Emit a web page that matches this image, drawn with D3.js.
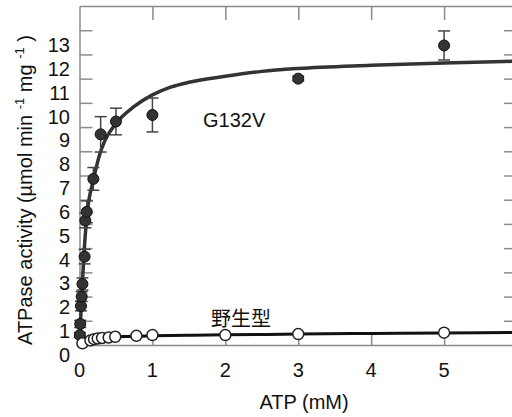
<!DOCTYPE html>
<html>
<head>
<meta charset="utf-8">
<script src="https://cdn.jsdelivr.net/npm/d3@7"></script>
<style>
  body { margin: 0; background: #fff; }
  svg { display: block; font-family: "Liberation Sans", Arial, sans-serif; }
  .axis path, .axis line { stroke: #8c8c8c; stroke-width: 1.5; }
</style>
</head>
<body>
<svg width="512" height="417"></svg>
<script>
// G132V mutant: ATP (mM), activity, error
const mutX = [0.005, 0.01, 0.02, 0.03, 0.04, 0.07, 0.08, 0.1, 0.19, 0.29, 0.5, 1, 3, 5];
const mutY = [0.41, 0.87, 1.61, 2.0, 2.52, 3.65, 5.14, 5.5, 6.86, 8.7, 9.23, 9.5, 11.0, 12.37];
const mutErr = [0.1, 0.15, 0.2, 0.2, 0.25, 0.3, 0.3, 0.45, 0.47, 0.73, 0.55, 0.7, 0.1, 0.6];

// wild type
const wtX = [0.04, 0.15, 0.2, 0.25, 0.31, 0.4, 0.49, 0.78, 1, 2, 3, 5];
const wtY = [0.07, 0.19, 0.24, 0.27, 0.29, 0.31, 0.34, 0.38, 0.41, 0.41, 0.45, 0.51];

// fitted curves
const mutFitX = [0, 0.03, 0.06, 0.1, 0.19, 0.28, 0.35, 0.5, 0.75, 1, 1.25, 1.5, 2, 2.5, 3, 4, 5, 6];
const mutFitY = [0, 2.0, 3.7, 5.3, 6.8, 7.9, 8.45, 9.15, 9.85, 10.33, 10.65, 10.85, 11.1, 11.3, 11.42, 11.55, 11.65, 11.72];
const wtFitX = [0, 0.05, 0.1, 0.2, 0.4, 0.6, 1, 1.5, 2, 3, 4, 5, 6];
const wtFitY = [0, 0.12, 0.2, 0.27, 0.32, 0.35, 0.38, 0.4, 0.42, 0.45, 0.48, 0.5, 0.52];

const xTicks = [0, 1, 2, 3, 4, 5];
const yTicks = [0, 1, 2, 3, 4, 5, 6, 7, 8, 9, 10, 11, 12, 13];

const svg = d3.select("svg");
const x = d3.scaleLinear().domain([0, 6]).range([79.5, 517]);
const y = d3.scaleLinear().domain([0, 14]).range([345, 6]);
// tick labels sit a little below their ticks in the original
const yLab = d3.scaleLinear().domain([0, 13]).range([362, 52]);

// axes (inward ticks)
svg.append("g").attr("class", "axis").attr("transform", "translate(79.5,0)")
  .call(d3.axisLeft(y).tickValues(yTicks.slice(1)).tickSize(-13).tickSizeOuter(0).tickFormat(""));
svg.append("g").attr("class", "axis").attr("transform", "translate(517,0)")
  .call(d3.axisRight(y).tickValues(yTicks.slice(1)).tickSize(-13).tickSizeOuter(0).tickFormat(""));
svg.append("g").attr("class", "axis").attr("transform", "translate(0,6)")
  .call(d3.axisTop(x).tickValues(xTicks.slice(1)).tickSize(-14).tickSizeOuter(0).tickFormat(""));
svg.append("g").attr("class", "axis").attr("transform", "translate(0,345)")
  .call(d3.axisBottom(x).tickValues(xTicks.slice(1)).tickSize(-13).tickSizeOuter(0).tickFormat(""));

// tick labels
svg.append("g").selectAll("text").data(yTicks).enter().append("text")
  .attr("x", 70).attr("y", (d) => yLab(d))
  .attr("text-anchor", "end").attr("font-size", 20).attr("fill", "#111")
  .text((d) => d);
svg.append("g").selectAll("text").data(xTicks).enter().append("text")
  .attr("x", (d) => x(d)).attr("y", 377)
  .attr("text-anchor", "middle").attr("font-size", 20).attr("fill", "#111")
  .text((d) => d);

// axis titles
svg.append("text").attr("x", 304).attr("y", 409)
  .attr("text-anchor", "middle").attr("font-size", 20).attr("fill", "#111")
  .text("ATP (mM)");

const yt = svg.append("text")
  .attr("transform", "translate(32,190) rotate(-90)")
  .attr("text-anchor", "middle").attr("font-size", 20).attr("fill", "#111");
yt.append("tspan").text("ATPase activity (µmol min ");
yt.append("tspan").attr("font-size", 13).attr("dy", -8).text("-1");
yt.append("tspan").attr("dy", 8).text("  mg ");
yt.append("tspan").attr("font-size", 13).attr("dy", -8).text("-1");
yt.append("tspan").attr("dy", 8).text(" )");

// fit curves
const line = d3.line().x((d) => x(d[0])).y((d) => y(d[1])).curve(d3.curveMonotoneX);
svg.append("path").datum(d3.zip(mutFitX, mutFitY))
  .attr("d", line).attr("fill", "none").attr("stroke", "#333").attr("stroke-width", 3.5);
svg.append("path").datum(d3.zip(wtFitX, wtFitY))
  .attr("d", line).attr("fill", "none").attr("stroke", "#111").attr("stroke-width", 3);

// error bars
const mut = mutX.map((v, i) => ({ x: v, y: mutY[i], e: mutErr[i] }));
const eb = svg.append("g").attr("stroke", "#444").attr("stroke-width", 1.5);
eb.selectAll(".v").data(mut).enter().append("line")
  .attr("x1", (d) => x(d.x)).attr("x2", (d) => x(d.x))
  .attr("y1", (d) => y(d.y + d.e)).attr("y2", (d) => y(d.y - d.e));
["top", "bot"].forEach((k) => {
  eb.selectAll("." + k).data(mut).enter().append("line")
    .attr("x1", (d) => x(d.x) - 6).attr("x2", (d) => x(d.x) + 6)
    .attr("y1", (d) => y(k === "top" ? d.y + d.e : d.y - d.e))
    .attr("y2", (d) => y(k === "top" ? d.y + d.e : d.y - d.e));
});

// points
svg.append("g").selectAll("circle").data(mut).enter().append("circle")
  .attr("cx", (d) => x(d.x)).attr("cy", (d) => y(d.y)).attr("r", 5.5)
  .attr("fill", "#333").attr("stroke", "#111").attr("stroke-width", 1);
svg.append("g").selectAll("circle").data(d3.zip(wtX, wtY)).enter().append("circle")
  .attr("cx", (d) => x(d[0])).attr("cy", (d) => y(d[1])).attr("r", 5.5)
  .attr("fill", "#fff").attr("stroke", "#222").attr("stroke-width", 1.5);

// series labels
svg.append("text").attr("x", 203).attr("y", 127).attr("font-size", 20).attr("fill", "#111")
  .text("G132V");
svg.append("text").attr("x", 211).attr("y", 326).attr("font-size", 20).attr("fill", "#111")
  .attr("font-family", "'Noto Sans CJK JP', sans-serif")
  .text("野生型");
</script>
</body>
</html>
